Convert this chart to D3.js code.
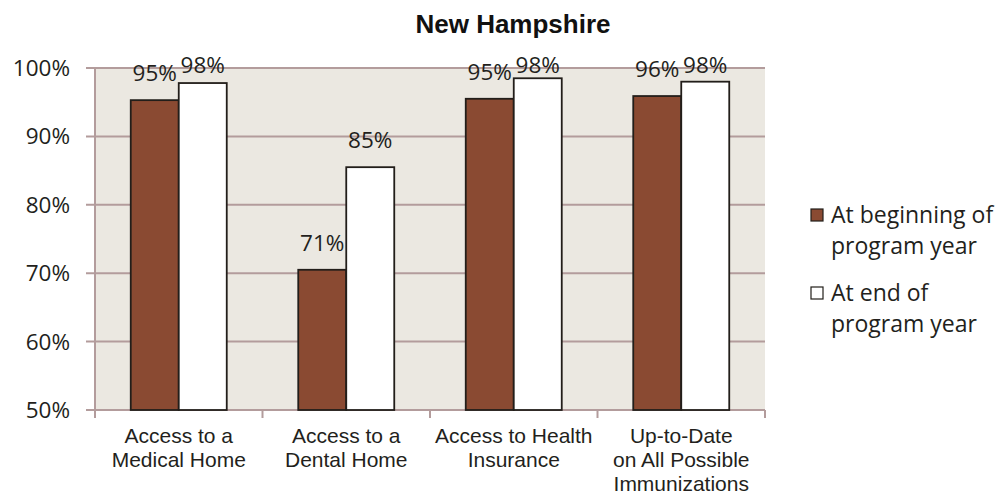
<!DOCTYPE html>
<html><head><meta charset="utf-8">
<script src="https://cdn.jsdelivr.net/npm/d3@7"></script>
<style>body{margin:0;background:#fff}svg{display:block}</style>
</head><body>
<svg id="c" width="1001" height="494"></svg>
<script>
const categories = [["Access to a","Medical Home"],["Access to a","Dental Home"],["Access to Health","Insurance"],["Up-to-Date","on All Possible","Immunizations"]];
const seriesNames = [["At beginning of","program year"],["At end of","program year"]];
const beginValues = [95.3, 70.5, 95.5, 95.9];
const endValues = [97.8, 85.5, 98.5, 98.0];
const beginLabels = ["95%","71%","95%","96%"];
const endLabels = ["98%","85%","98%","98%"];
const yTicks = [50,60,70,80,90,100];

const svg = d3.select("#c");
const L=95, R=765, T=68, B=410;
const x = d3.scaleBand().domain(d3.range(categories.length)).range([L,R]).paddingInner(0).paddingOuter(0);
const y = d3.scaleLinear().domain([50,100]).range([B,T]);
const barW = 48;
const colors = ["#8a4a32","#ffffff"];
const lblFont = "Open Sans, Noto Sans, sans-serif";

svg.append("rect").attr("x",L).attr("y",T).attr("width",R-L).attr("height",B-T).attr("fill","#ebe8e1");
svg.append("g").selectAll("line").data(yTicks).join("line")
  .attr("x1",L-9).attr("x2",R).attr("y1",d=>y(d)).attr("y2",d=>y(d))
  .attr("stroke","#b39c9c").attr("stroke-width",2);
svg.append("line").attr("x1",L).attr("x2",L).attr("y1",T).attr("y2",B+8).attr("stroke","#b39c9c").attr("stroke-width",2);
svg.append("g").selectAll("line").data(d3.range(categories.length+1)).join("line")
  .attr("x1",d=>L+d*x.bandwidth()).attr("x2",d=>L+d*x.bandwidth()).attr("y1",B).attr("y2",B+8)
  .attr("stroke","#b39c9c").attr("stroke-width",2);

const series = [beginValues,endValues];
const labels = [beginLabels,endLabels];
series.forEach((vals,s)=>{
  svg.append("g").selectAll("rect").data(vals).join("rect")
    .attr("x",(d,i)=>x(i)+x.bandwidth()/2-barW+s*barW)
    .attr("y",d=>y(d)).attr("width",barW).attr("height",d=>B-y(d))
    .attr("fill",colors[s]).attr("stroke","#221e1a").attr("stroke-width",1.8);
});
series.forEach((vals,s)=>{
  svg.append("g").selectAll("text").data(vals).join("text")
    .attr("x",(d,i)=>x(i)+x.bandwidth()/2-barW/2+s*barW)
    .attr("y",d=>Math.max(y(d)-19, T+5)).attr("text-anchor","middle")
    .attr("font-family",lblFont).attr("font-size",22.5).attr("fill","#231f1c")
    .text((d,i)=>labels[s][i]);
});
svg.append("g").selectAll("text").data(yTicks).join("text")
  .attr("x",70).attr("y",d=>y(d)+8).attr("text-anchor","end")
  .attr("font-family",lblFont).attr("font-size",22.5).attr("fill","#231f1c")
  .text(d=>d+"%");
categories.forEach((lines,i)=>{
  const t = svg.append("text").attr("text-anchor","middle")
    .attr("font-family","Liberation Sans, Arial, sans-serif").attr("font-size",21).attr("fill","#231f1c");
  lines.forEach((ln,j)=>t.append("tspan").attr("x",x(i)+x.bandwidth()/2).attr("y",443+j*24).text(ln));
});
svg.append("text").attr("x",513).attr("y",33).attr("text-anchor","middle")
  .attr("font-family","Liberation Sans, Arial, sans-serif").attr("font-size",26).attr("font-weight","bold").attr("fill","#111")
  .text("New Hampshire");
seriesNames.forEach((lines,s)=>{
  const oy = 209 + s*78;
  svg.append("rect").attr("x",811).attr("y",oy).attr("width",12).attr("height",12)
    .attr("fill",colors[s]).attr("stroke","#221e1a").attr("stroke-width",1.2);
  const t = svg.append("text").attr("font-family",lblFont).attr("font-size",23).attr("fill","#231f1c");
  lines.forEach((ln,j)=>t.append("tspan").attr("x",831).attr("y",oy+14+j*31).text(ln));
});
</script>
</body></html>
